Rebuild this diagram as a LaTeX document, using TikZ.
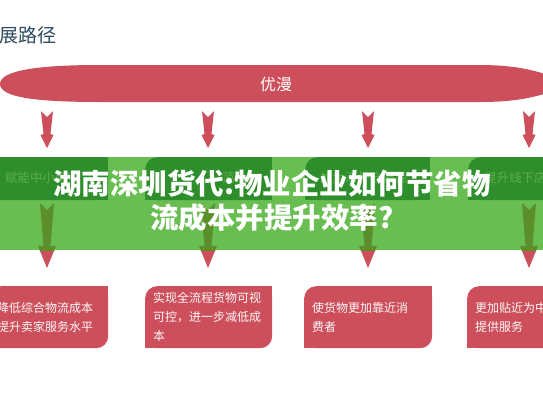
\documentclass[tikz,border=0pt]{standalone}
\usepackage{fontspec}
\setmainfont{Noto Sans CJK SC}
\usetikzlibrary{positioning,backgrounds}
\definecolor{cardred}{HTML}{CD4F5B}
\definecolor{bandgreen}{HTML}{68BE50}
\definecolor{darkgreen}{HTML}{2E8E2B}
\definecolor{olivegreen}{HTML}{5C8E2A}
\definecolor{faintgreen}{HTML}{5CAE4A}
\definecolor{headblue}{HTML}{2D4A5F}

\begin{document}
\begin{tikzpicture}[x=1pt, y=-1pt,
  redcard/.style={fill=cardred, rounded corners=12pt, anchor=north west,
                  minimum height=62pt, inner xsep=8pt, inner ysep=0pt,
                  text width=#1, align=left, text=white!96!cardred,
                  font=\fontsize{12}{19}\selectfont},
  greencard/.style={fill=darkgreen, rounded corners=12pt, anchor=north west,
                    minimum height=43pt, minimum width=#1, inner sep=0pt},
  faint/.style={anchor=west, inner sep=0pt, text=faintgreen,
                font=\fontsize{12.5}{12.5}\selectfont},
]
\useasboundingbox (0,0) rectangle (543,408);
\clip (0,0) rectangle (543,408);

% heading and top band
\node[anchor=west, inner sep=0pt, text=headblue, font=\fontsize{19}{19}\selectfont]
  (heading) at (-1,35) {展路径};
\fill[cardred] (0,84) .. controls (0,70) and (40,65) .. (100,65) -- (480,65)
  .. controls (525,65) and (548,74) .. (570,84)
  .. controls (548,94) and (525,102) .. (480,102) -- (100,102)
  .. controls (40,102) and (0,98) .. cycle;
\node[text=white, font=\fontsize{16}{16}\selectfont] (lens) at (276,84) {优漫};

% arrows
\foreach \x in {47,208,368,529}{
  \fill[cardred] (\x-6,111) -- (\x,117) -- (\x+6,111) -- (\x+3.5,134)
    -- (\x+6.5,135) -- (\x,148) -- (\x-6.5,135) -- (\x-3.5,134) -- cycle;
  \fill[cardred] (\x-7,203) -- (\x,210) -- (\x+7,203) -- (\x+3.5,246)
    -- (\x+9,246) -- (\x,268) -- (\x-9,246) -- (\x-3.5,246) -- cycle;
}

% green band
\fill[bandgreen] (0,157) rectangle (543,250);
\begin{scope}
  \clip (0,157) rectangle (543,250);
  \foreach \x in {47,208,368,529}
    \fill[olivegreen] (\x-7,203) -- (\x,210) -- (\x+7,203) -- (\x+3.5,246)
      -- (\x+9,246) -- (\x,268) -- (\x-9,246) -- (\x-3.5,246) -- cycle;
\end{scope}

\node[greencard=128pt] (g1) at (-20,157) {};
\node[greencard=127pt] (g2) at (145,157) {};
\node[greencard=125pt] (g3) at (305,157) {};
\node[greencard=132pt] (g4) at (468,157) {};
\foreach \n in {g1,g2,g3,g4}{
  \fill[darkgreen] (\n.north east) rectangle ([xshift=-12pt,yshift=-12pt]\n.north east);
  \fill[darkgreen] (\n.south east) rectangle ([xshift=-12pt,yshift=12pt]\n.south east);
  \fill[darkgreen] (\n.south west) rectangle ([xshift=12pt,yshift=12pt]\n.south west);
}
\node[faint] (f1) at (5,178) {赋能中小卖家};
\node[faint] (f2) at (222,178) {范};
\node[faint] (f3) at (320,178) {加大海外仓覆盖};
\node[faint] (f4) at (484,178) {提升线下店};

\node[text=white, align=center, font=\bfseries\fontsize{28.5}{34}\selectfont]
  (headline) at (272,201) {湖南深圳货代:物业企业如何节省物\\流成本并提升效率?};

% bottom cards
\node[redcard=103pt] (c1) at (-11,286) {降低综合物流成本\\提升卖家服务水平};
\node[redcard=111pt] (c2) at (145,286) {实现全流程货物可视\\可控，进一步减低成\\本};
\node[redcard=112pt] (c3) at (304,286) {使货物更加靠近消\\费者};
\node[redcard=100pt] (c4) at (467,286) {更加贴近为中\\提供服务};
\begin{scope}[on background layer]
  \foreach \n in {c1,c2,c3,c4}{
    \fill[cardred] (\n.north east) rectangle ([xshift=-12pt,yshift=-12pt]\n.north east);
    \fill[cardred] (\n.south west) rectangle ([xshift=12pt,yshift=12pt]\n.south west);
  }
\end{scope}

\end{tikzpicture}
\end{document}
